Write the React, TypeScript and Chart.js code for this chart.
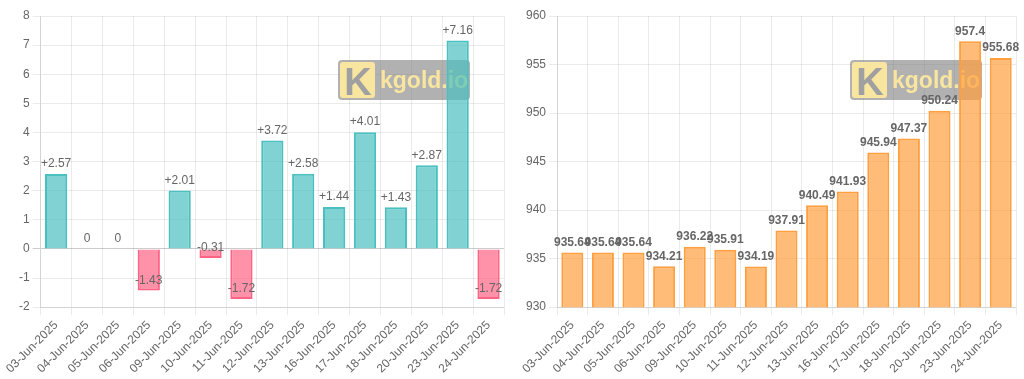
import React, { useEffect, useRef } from "react";
import { Chart, registerables } from "chart.js";

Chart.register(...registerables);

const categories = [
  "03-Jun-2025", "04-Jun-2025", "05-Jun-2025", "06-Jun-2025", "09-Jun-2025",
  "10-Jun-2025", "11-Jun-2025", "12-Jun-2025", "13-Jun-2025", "16-Jun-2025",
  "17-Jun-2025", "18-Jun-2025", "20-Jun-2025", "23-Jun-2025", "24-Jun-2025",
];
const changeValues = [2.57, 0, 0, -1.43, 2.01, -0.31, -1.72, 3.72, 2.58, 1.44, 4.01, 1.43, 2.87, 7.16, -1.72];
const priceValues = [935.64, 935.64, 935.64, 934.21, 936.22, 935.91, 934.19, 937.91, 940.49, 941.93, 945.94, 947.37, 950.24, 957.4, 955.68];

const watermarkText = "kgold.io";
const watermarkLogo = "K";

function rr(ctx: CanvasRenderingContext2D, x: number, y: number, w: number, h: number, r: number) {
  ctx.beginPath();
  ctx.moveTo(x + r, y);
  ctx.lineTo(x + w - r, y);
  ctx.quadraticCurveTo(x + w, y, x + w, y + r);
  ctx.lineTo(x + w, y + h - r);
  ctx.quadraticCurveTo(x + w, y + h, x + w - r, y + h);
  ctx.lineTo(x + r, y + h);
  ctx.quadraticCurveTo(x, y + h, x, y + h - r);
  ctx.lineTo(x, y + r);
  ctx.quadraticCurveTo(x, y, x + r, y);
  ctx.closePath();
}

const watermarkPlugin = {
  id: "watermark",
  beforeDatasetsDraw(chart: any) {
    const ctx: CanvasRenderingContext2D = chart.ctx;
    const x = chart.chartArea.right - 166;
    const y = 60;
    ctx.save();
    rr(ctx, x, y, 132, 40, 4);
    ctx.fillStyle = "rgba(120,120,120,0.58)";
    ctx.fill();
    rr(ctx, x + 2, y + 2, 35, 36, 3);
    ctx.fillStyle = "rgba(255,234,160,0.92)";
    ctx.fill();
    ctx.fillStyle = "rgba(160,160,160,1)";
    ctx.font = "bold 38px 'Liberation Sans', Arial, sans-serif";
    ctx.textAlign = "center";
    ctx.textBaseline = "alphabetic";
    ctx.fillText(watermarkLogo, x + 20, y + 35);
    ctx.fillStyle = "rgba(255,234,160,0.92)";
    ctx.font = "bold 23px 'Liberation Sans', Arial, sans-serif";
    ctx.textAlign = "left";
    ctx.fillText(watermarkText, x + 42, y + 28);
    ctx.restore();
  },
};

function makeLabelPlugin(bold: boolean, signed: boolean) {
  return {
    id: "barLabels",
    afterDatasetsDraw(chart: any) {
      const ctx: CanvasRenderingContext2D = chart.ctx;
      const meta = chart.getDatasetMeta(0);
      const data = chart.data.datasets[0].data as number[];
      ctx.save();
      ctx.font = (bold ? "bold " : "") + "12px 'Helvetica Neue', Helvetica, Arial, sans-serif";
      ctx.fillStyle = "#666";
      ctx.textAlign = "center";
      ctx.textBaseline = "bottom";
      meta.data.forEach((bar: any, i: number) => {
        const v = data[i];
        const t = signed && v > 0 ? "+" + v : String(v);
        ctx.fillText(t, bar.x, bar.y - 4);
      });
      ctx.restore();
    },
  };
}

function BarChart(props: {
  values: number[];
  colors: string[];
  borders: string[];
  min: number;
  max: number;
  step: number;
  bold: boolean;
  signed: boolean;
  padLeft: number;
  zeroLine: boolean;
}) {
  const ref = useRef<HTMLCanvasElement>(null);
  useEffect(() => {
    if (!ref.current) return;
    const chart = new Chart(ref.current, {
      type: "bar",
      data: {
        labels: categories,
        datasets: [
          {
            data: props.values,
            backgroundColor: props.colors,
            borderColor: props.borders,
            borderWidth: 2,
          },
        ],
      },
      options: {
        responsive: false,
        animation: false,
        layout: { padding: { left: props.padLeft, right: 8, top: 16, bottom: 0 } },
        plugins: { legend: { display: false }, tooltip: { enabled: false } },
        scales: {
          x: {
            grid: { color: "rgba(0,0,0,0.08)" },
            ticks: { color: "#666", maxRotation: 45, minRotation: 45, font: { size: 12 } },
          },
          y: {
            min: props.min,
            max: props.max,
            ticks: { stepSize: props.step, color: "#666", font: { size: 12 } },
            grid: {
              color: (c: any) =>
                props.zeroLine && c.tick && c.tick.value === 0 ? "rgba(0,0,0,0.2)" : "rgba(0,0,0,0.08)",
            },
          },
        },
      },
      plugins: [watermarkPlugin, makeLabelPlugin(props.bold, props.signed)],
    });
    return () => chart.destroy();
  }, []);
  return <canvas ref={ref} width={512} height={379} style={{ display: "block" }} />;
}

export default function App() {
  const leftColors = changeValues.map((v) => (v < 0 ? "rgba(255,99,132,0.7)" : "rgba(75,192,192,0.7)"));
  const leftBorders = changeValues.map((v) => (v < 0 ? "rgba(255,99,132,1)" : "rgba(75,192,192,1)"));
  const rightColors = priceValues.map(() => "rgba(255,159,64,0.7)");
  const rightBorders = priceValues.map(() => "rgba(255,159,64,1)");
  return (
    <div style={{ position: "absolute", left: 0, top: 0, width: 1024, height: 379, background: "#fff", display: "flex" }}>
      <BarChart values={changeValues} colors={leftColors} borders={leftBorders} min={-2} max={8} step={1}
        bold={false} signed={true} padLeft={16} zeroLine={true} />
      <BarChart values={priceValues} colors={rightColors} borders={rightBorders} min={930} max={960} step={5}
        bold={true} signed={false} padLeft={11} zeroLine={false} />
    </div>
  );
}
